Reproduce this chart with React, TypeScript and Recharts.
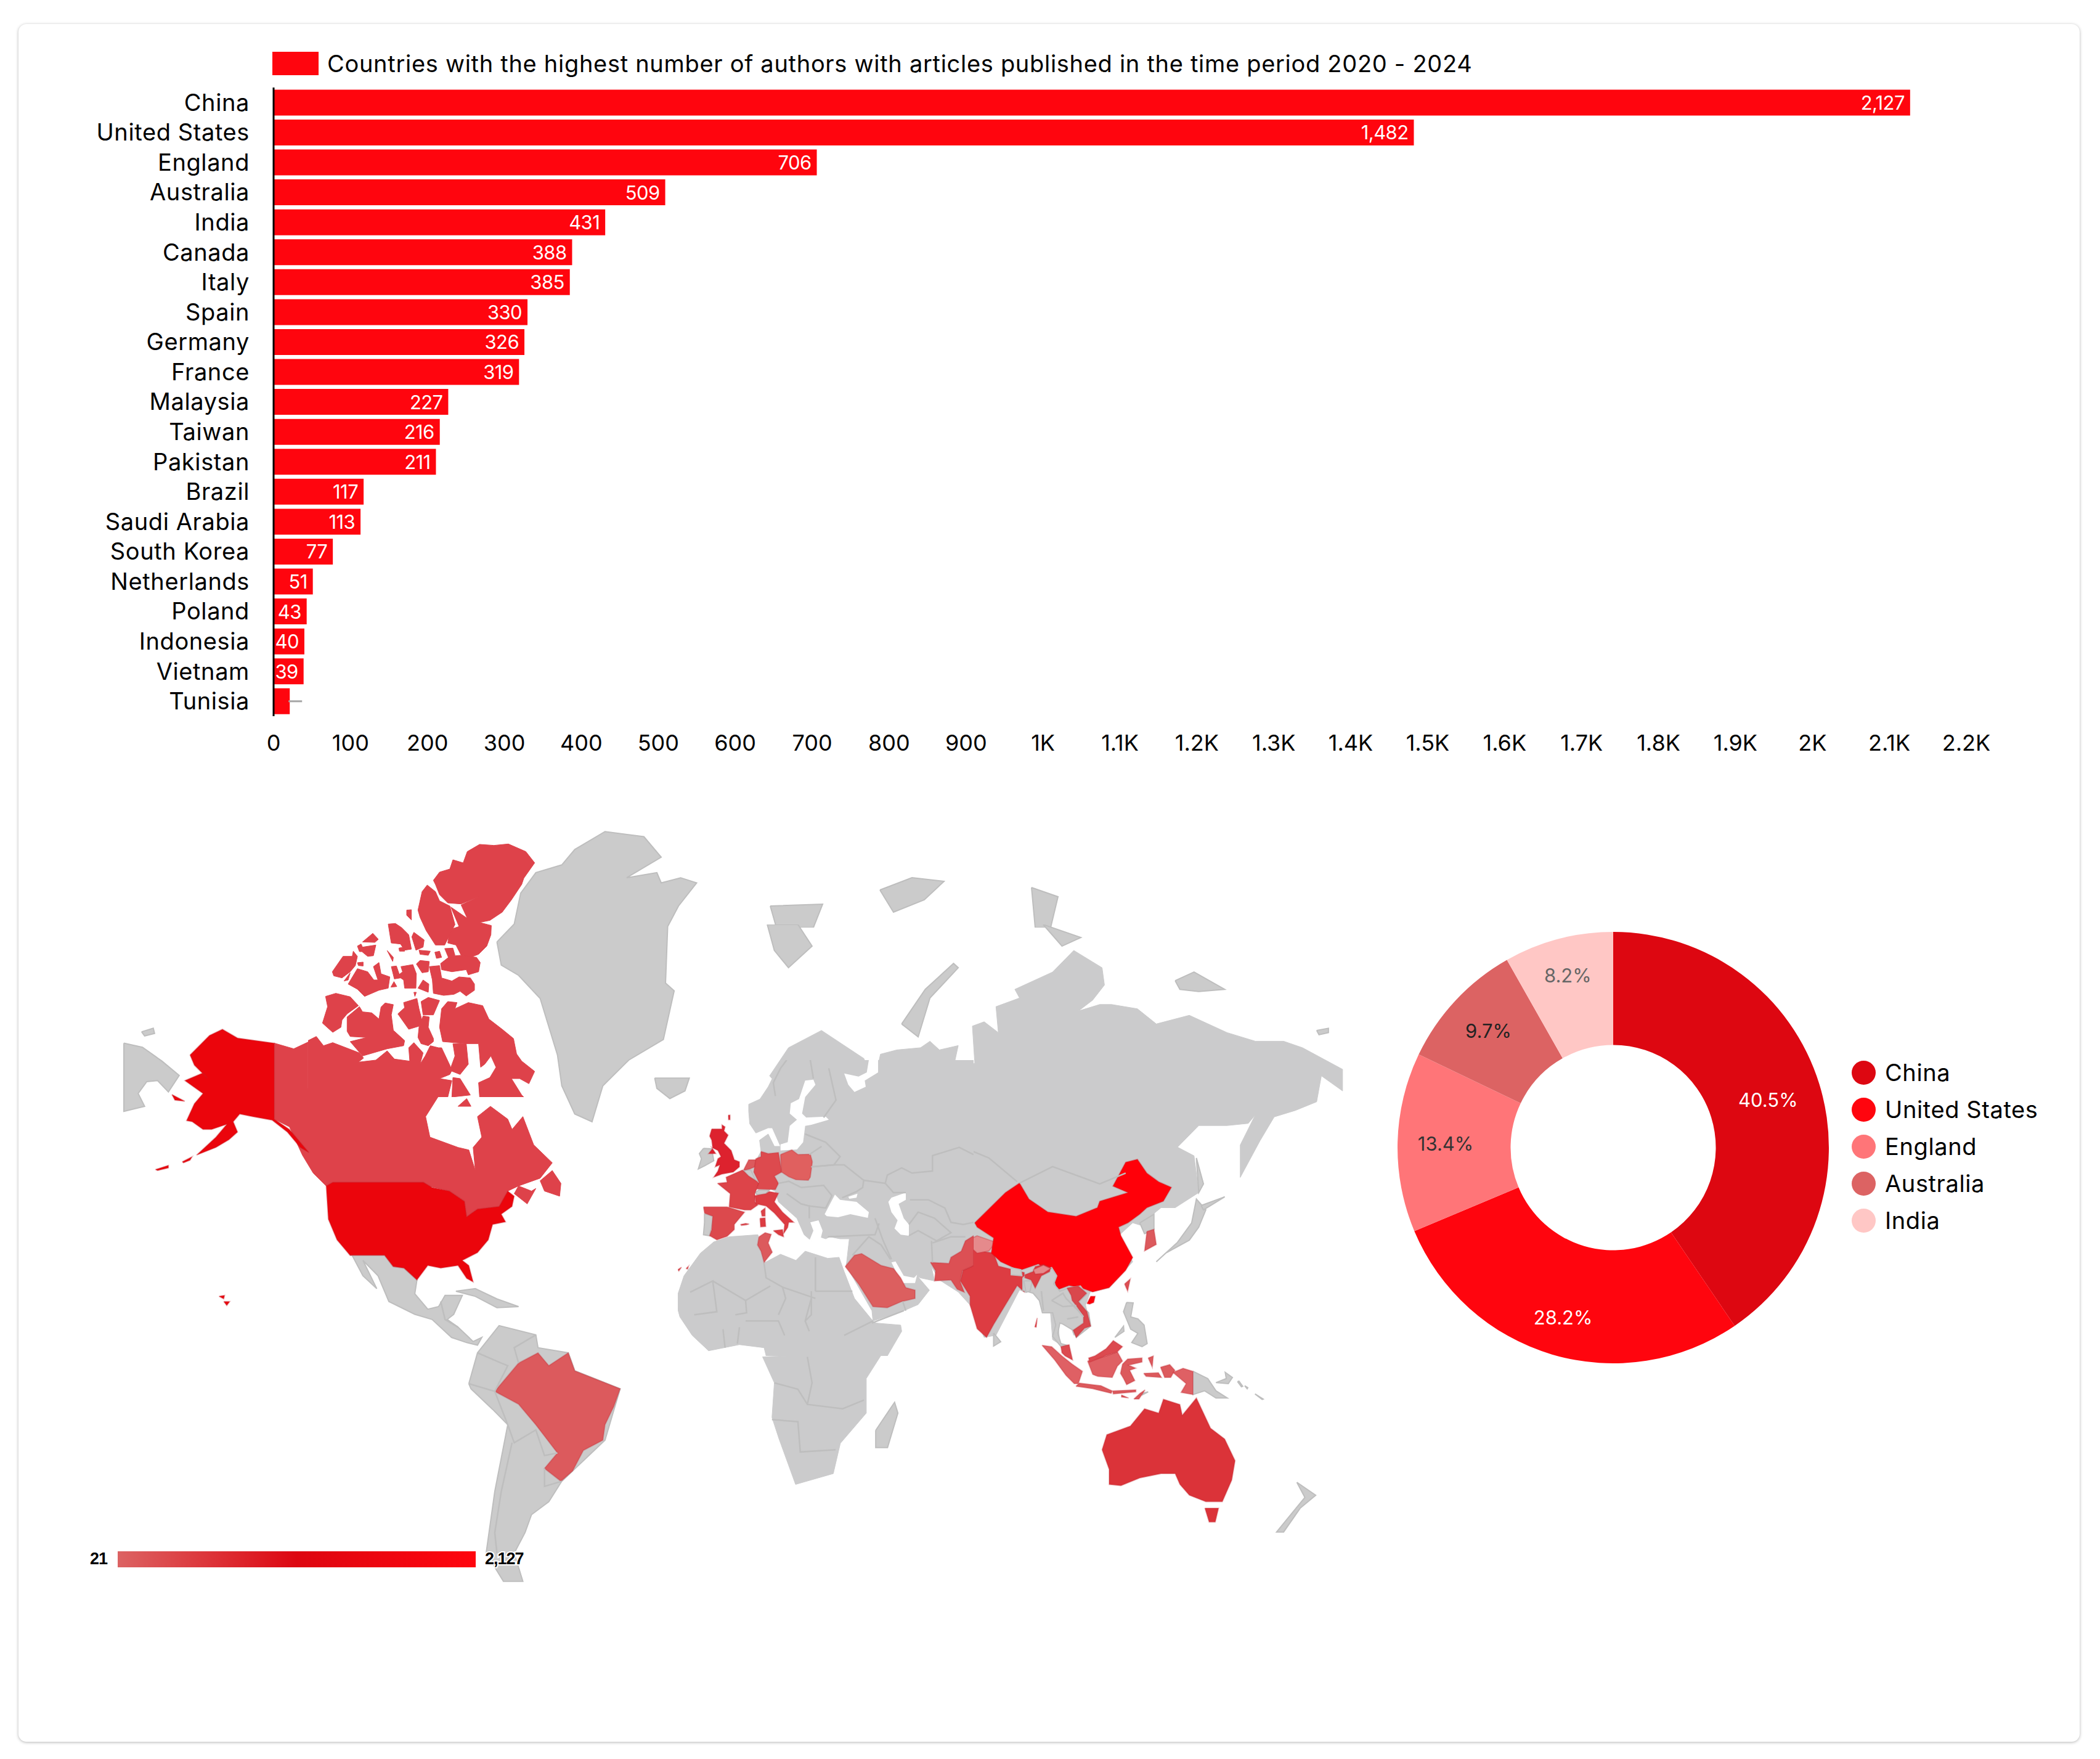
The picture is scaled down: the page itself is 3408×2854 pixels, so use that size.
import React from 'react';
import {
  BarChart, Bar, XAxis, YAxis, LabelList, Legend, PieChart, Pie, Cell, ScatterChart, Scatter,
} from 'recharts';

const FONT = 'Inter, sans-serif';

const countries = ['China', 'United States', 'England', 'Australia', 'India', 'Canada', 'Italy', 'Spain', 'Germany', 'France', 'Malaysia', 'Taiwan', 'Pakistan', 'Brazil', 'Saudi Arabia', 'South Korea', 'Netherlands', 'Poland', 'Indonesia', 'Vietnam', 'Tunisia'];
const authors = [2127, 1482, 706, 509, 431, 388, 385, 330, 326, 319, 227, 216, 211, 117, 113, 77, 51, 43, 40, 39, 21];
const xTicks = [0, 100, 200, 300, 400, 500, 600, 700, 800, 900, 1000, 1100, 1200, 1300, 1400, 1500, 1600, 1700, 1800, 1900, 2000, 2100, 2200];

const pieNames = ['China', 'United States', 'England', 'Australia', 'India'];
const pieValues = [2127, 1482, 706, 509, 431];
const pieColors = ['#dd0711', '#ff050e', '#ff7578', '#dc6363', '#ffc7c5'];
const pieLabelColors = ['#ffffff', '#ffffff', '#333333', '#222222', '#666666'];
const pieLabelRadius = [263, 287, 272, 277, 289];

const barRows = countries.map((name, i) => ({ name, value: authors[i] }));
const pieRows = pieNames.map((name, i) => ({ name, value: pieValues[i] }));

type Pt = [number, number];
type Region = { pts: Pt[]; fill: string };

const GRAY = '#cbcbcb';
const LAND = '#cbcbcc'; // same gray, no coast line, for pieces that meet at a crop edge
const WHITE = '#ffffff';
const US = '#eb050c';
const CANADA = '#de424a';
const CHINA = '#ff0009';
const LOW = '#dc5a5d';
const AUS = '#db3339';

// western half
const chukotka: Pt[] = [[87, 447], [130, 455], [175, 482], [215, 510], [190, 542], [165, 520], [140, 522], [120, 545], [135, 570], [87, 580]];
const stLawrence: Pt[] = [[128, 425], [155, 418], [158, 428], [135, 433]];
const greenland: Pt[] = [[950, 250], [990, 215], [1005, 155], [1040, 115], [1100, 100], [1130, 70], [1200, 35], [1290, 45], [1330, 85], [1250, 125], [1320, 115], [1330, 135], [1375, 125], [1412, 135], [1370, 180], [1345, 220], [1340, 330], [1360, 345], [1335, 440], [1255, 480], [1195, 530], [1170, 600], [1130, 585], [1100, 530], [1090, 470], [1050, 360], [1000, 315], [960, 295]];
const iceland: Pt[] = [[1315, 515], [1370, 515], [1395, 515], [1385, 540], [1350, 555], [1320, 535]];
const mexico: Pt[] = [[610, 860], [690, 860], [710, 882], [735, 885], [765, 908], [760, 935], [790, 965], [815, 960], [830, 938], [870, 938], [850, 975], [835, 985], [860, 1000], [895, 1028], [915, 1020], [905, 1035], [880, 1030], [845, 1020], [800, 985], [760, 975], [700, 950], [675, 900], [640, 870], [672, 925], [640, 900], [615, 860]];
const cuba: Pt[] = [[855, 930], [900, 925], [950, 945], [1000, 960], [950, 962], [900, 940]];
const southAmerica: Pt[] = [[885, 1110], [905, 1050], [955, 997], [1040, 1015], [1045, 1040], [1115, 1050], [1130, 1085], [1235, 1120], [1200, 1220], [1100, 1300], [1070, 1340], [1030, 1365], [1015, 1400], [990, 1440], [1010, 1495], [965, 1495], [925, 1440], [945, 1320], [975, 1190], [940, 1160], [890, 1120]];
const brazil: Pt[] = [[945, 1125], [1000, 1070], [1045, 1050], [1070, 1075], [1115, 1050], [1130, 1085], [1235, 1120], [1220, 1155], [1200, 1190], [1195, 1220], [1150, 1240], [1125, 1280], [1098, 1300], [1060, 1275], [1090, 1245], [1040, 1190], [1000, 1150]];
const alaska: Pt[] = [[240, 470], [285, 432], [315, 420], [350, 437], [435, 447], [435, 595], [470, 615], [515, 660], [495, 650], [465, 620], [430, 597], [385, 590], [355, 585], [340, 600], [350, 620], [330, 635], [300, 650], [255, 665], [300, 630], [325, 605], [290, 615], [270, 615], [245, 600], [232, 598], [250, 565], [270, 545], [228, 520], [270, 505], [280, 515], [250, 490]];
const aleutianA: Pt[] = [[160, 693], [190, 685], [190, 690], [165, 695]];
const aleutianB: Pt[] = [[222, 678], [245, 668], [240, 675], [225, 680]];
const nunivak: Pt[] = [[198, 547], [228, 560], [205, 558]];
const hawaiiA: Pt[] = [[307, 940], [320, 938], [318, 945]];
const hawaiiB: Pt[] = [[318, 950], [332, 950], [325, 958]];
const lower48: Pt[] = [[570, 718], [780, 718], [800, 728], [840, 735], [875, 755], [880, 785], [905, 770], [955, 765], [975, 735], [990, 745], [985, 765], [960, 780], [970, 795], [940, 800], [930, 830], [905, 855], [870, 870], [885, 880], [895, 912], [880, 905], [860, 880], [820, 885], [790, 880], [765, 908], [735, 885], [710, 882], [690, 860], [610, 860], [580, 830], [560, 790], [555, 725]];
const canadaMain: Pt[] = [[435, 447], [480, 458], [513, 445], [513, 535], [835, 535], [815, 550], [785, 590], [795, 630], [860, 650], [885, 655], [900, 695], [895, 650], [915, 630], [905, 590], [935, 570], [975, 595], [985, 615], [1010, 590], [1035, 645], [1078, 680], [1050, 710], [1000, 725], [975, 735], [955, 765], [905, 770], [880, 785], [875, 755], [840, 735], [790, 725], [780, 718], [570, 718], [555, 725], [525, 700], [500, 665], [470, 610], [435, 595]];
const southampton: Pt[] = [[860, 570], [880, 555], [890, 570]];
const newfoundland: Pt[] = [[1050, 715], [1078, 695], [1098, 720], [1095, 745], [1060, 735]];
const novaScotia: Pt[] = [[990, 740], [1000, 725], [1030, 735], [1040, 730], [1020, 760]];

const westRegions: Region[] = [
  { pts: chukotka, fill: GRAY }, { pts: stLawrence, fill: GRAY }, { pts: greenland, fill: GRAY }, { pts: iceland, fill: GRAY },
  { pts: mexico, fill: GRAY }, { pts: cuba, fill: GRAY }, { pts: southAmerica, fill: GRAY }, { pts: brazil, fill: LOW },
  { pts: canadaMain, fill: CANADA }, { pts: southampton, fill: CANADA }, { pts: newfoundland, fill: CANADA }, { pts: novaScotia, fill: CANADA },
  { pts: alaska, fill: US }, { pts: aleutianA, fill: US }, { pts: aleutianB, fill: US }, { pts: nunivak, fill: US },
  { pts: hawaiiA, fill: US }, { pts: hawaiiB, fill: US }, { pts: lower48, fill: US },
];
const westBorders: Pt[][] = [
  [[905, 1050], [960, 1070], [975, 1075], [945, 1125]],
  [[885, 1110], [945, 1125], [975, 1190]],
  [[975, 1190], [990, 1225], [1040, 1200], [1060, 1250], [1090, 1245]],
  [[985, 1225], [960, 1320], [945, 1400], [950, 1440]],
  [[1040, 1015], [990, 1040], [1000, 1070]],
  [[1060, 1275], [1060, 1310], [1100, 1300]],
  [[820, 950], [830, 985], [860, 1000]],
];

// canadian arctic, finer crop
const ellesmere: Pt[] = [[610, 205], [640, 165], [690, 150], [705, 105], [755, 120], [775, 65], [835, 30], [905, 35], [975, 28], [1060, 65], [1103, 120], [1050, 195], [1040, 225], [990, 300], [945, 360], [885, 400], [835, 410], [892, 425], [890, 470], [870, 525], [830, 565], [790, 580], [745, 570], [720, 520], [680, 510], [690, 445], [735, 430], [695, 335], [775, 390], [745, 325], [830, 285], [745, 320], [680, 315], [640, 275], [620, 225]];
const axelHeiberg: Pt[] = [[580, 228], [620, 260], [640, 305], [690, 330], [715, 420], [665, 520], [620, 520], [575, 450], [545, 385], [535, 350], [555, 260]];
const devon: Pt[] = [[645, 610], [690, 575], [740, 570], [820, 580], [838, 605], [830, 650], [780, 665], [770, 640], [700, 650], [650, 640]];
const northKent: Pt[] = [[665, 537], [705, 535], [715, 570], [685, 585]];
const grahamIs: Pt[] = [[617, 555], [640, 550], [650, 580], [625, 585]];
const cornwall: Pt[] = [[505, 480], [515, 458], [565, 495], [560, 530], [525, 545]];
const amundRingnes: Pt[] = [[540, 545], [595, 550], [585, 570], [545, 565]];
const kingChristian: Pt[] = [[442, 535], [465, 530], [470, 550], [445, 550]];
const ellefRingnes: Pt[] = [[390, 418], [425, 415], [455, 435], [490, 470], [503, 540], [470, 545], [450, 515], [405, 510], [400, 480]];
const meighen: Pt[] = [[480, 350], [503, 348], [503, 398], [480, 375]];
const borden: Pt[] = [[265, 505], [315, 463], [342, 492], [325, 507]];
const mackenzieKing: Pt[] = [[240, 525], [258, 515], [265, 530], [330, 520], [318, 572], [290, 575], [262, 552], [250, 552]];
const lougheed: Pt[] = [[385, 547], [415, 580], [412, 600]];
const eglinton: Pt[] = [[240, 606], [268, 603], [268, 622], [245, 620]];
const princePatrick: Pt[] = [[118, 650], [170, 575], [215, 575], [220, 550], [240, 575], [230, 620], [205, 650], [165, 680], [125, 670]];
const melvilleIs: Pt[] = [[195, 710], [240, 635], [290, 650], [320, 690], [340, 690], [318, 625], [345, 605], [355, 660], [398, 675], [390, 730], [345, 740], [275, 770], [240, 735]];
const emeraldIs: Pt[] = [[175, 695], [205, 655], [195, 690]];
const byam: Pt[] = [[405, 625], [430, 622], [450, 680], [420, 685]];
const bathurst: Pt[] = [[452, 625], [510, 615], [527, 660], [525, 730], [470, 730], [465, 690], [435, 670], [460, 650]];
const lowther: Pt[] = [[403, 725], [418, 698], [432, 722]];
const cornwallis: Pt[] = [[527, 612], [545, 595], [590, 600], [585, 650], [555, 655]];
const devonSouth: Pt[] = [[590, 625], [640, 620], [650, 680], [700, 695], [735, 675], [790, 680], [810, 710], [810, 740], [770, 768], [740, 745], [710, 760], [660, 765], [610, 755], [605, 690]];
const griffith: Pt[] = [[535, 730], [560, 690], [588, 710], [585, 750]];
const youngIs: Pt[] = [[515, 750], [527, 750], [520, 770]];
const banks: Pt[] = [[85, 770], [135, 755], [205, 772], [245, 815], [190, 855], [165, 885], [160, 920], [120, 945], [70, 900], [95, 820]];
const victoriaIs: Pt[] = [[190, 870], [250, 820], [265, 845], [310, 850], [345, 880], [355, 822], [375, 802], [415, 810], [405, 860], [415, 935], [470, 985], [465, 1010], [385, 1025], [265, 1060], [205, 990], [285, 970], [205, 965], [190, 940]];
const princeWales: Pt[] = [[437, 855], [470, 825], [465, 800], [530, 780], [540, 830], [555, 890], [540, 915], [490, 930]];
const somerset: Pt[] = [[550, 795], [585, 775], [640, 790], [610, 860], [560, 860]];
const boothia: Pt[] = [[560, 865], [590, 870], [585, 920], [610, 975], [610, 990], [585, 1010], [550, 1000], [535, 970], [540, 920]];
const arcticCoast: Pt[] = [[0, 985], [40, 965], [75, 1010], [120, 995], [250, 1045], [270, 1070], [245, 1090], [330, 1080], [385, 1035], [420, 1075], [495, 1085], [490, 1020], [515, 995], [560, 1045], [545, 1100], [570, 1060], [595, 1010], [635, 1020], [650, 1020], [690, 1105], [700, 1130], [690, 1150], [640, 1170], [700, 1180], [680, 1260], [0, 1260]];
const baffin: Pt[] = [[640, 920], [650, 830], [680, 795], [725, 800], [715, 830], [780, 800], [850, 815], [880, 880], [945, 930], [1000, 975], [1015, 1050], [1040, 1085], [1103, 1135], [1075, 1195], [1030, 1170], [990, 1170], [1040, 1250], [1050, 1260], [835, 1260], [830, 1190], [885, 1165], [915, 1115], [890, 1060], [860, 1100], [840, 1115], [830, 1000], [770, 1000], [655, 990]];
const melvillePen: Pt[] = [[705, 1000], [770, 1000], [780, 1100], [740, 1150], [690, 1130], [715, 1060]];
const ungavaTip: Pt[] = [[705, 1165], [740, 1170], [790, 1250], [700, 1260]];

const arcticRegions: Region[] = [
  ellesmere, axelHeiberg, devon, northKent, grahamIs, cornwall, amundRingnes, kingChristian, ellefRingnes, meighen, borden,
  mackenzieKing, lougheed, eglinton, princePatrick, melvilleIs, emeraldIs, byam, bathurst, lowther, cornwallis, devonSouth,
  griffith, youngIs, banks, victoriaIs, princeWales, somerset, boothia, arcticCoast, baffin, melvillePen, ungavaTip,
].map((pts) => ({ pts, fill: CANADA }));

// high arctic islands above the eastern crop
const franzJosef: Pt[] = [[228, 64], [280, 44], [332, 50], [300, 80], [250, 100]];
const svalbardTop: Pt[] = [[50, 90], [135, 87], [120, 125], [60, 125]];
const severnayaTop: Pt[] = [[474, 60], [517, 75], [505, 125], [480, 125]];
const northRegions: Region[] = [franzJosef, svalbardTop, severnayaTop].map((pts) => ({ pts, fill: GRAY }));

// eastern half
const eurasia: Pt[] = [[470, 330], [485, 350], [495, 300], [530, 290], [580, 285], [600, 270], [620, 290], [660, 280], [650, 330], [670, 345], [695, 320], [690, 235], [715, 225], [745, 250], [740, 190], [790, 170], [780, 150], [860, 110], [905, 60], [965, 100], [970, 140], [945, 175], [915, 200], [960, 185], [985, 185], [1040, 195], [1080, 230], [1150, 210], [1230, 250], [1290, 270], [1350, 270], [1390, 285], [1475, 335], [1475, 385], [1430, 350], [1420, 410], [1375, 430], [1330, 445], [1300, 500], [1258, 585], [1258, 510], [1290, 440], [1275, 460], [1230, 465], [1170, 465], [1125, 515], [1160, 535], [1170, 620], [1120, 655], [1090, 655], [1045, 695], [1030, 690], [1000, 720], [1030, 780], [980, 840], [940, 850], [930, 880], [940, 925], [905, 950], [890, 905], [870, 895], [875, 965], [895, 985], [860, 960], [855, 890], [830, 850], [800, 850], [790, 845], [740, 950], [715, 955], [685, 880], [660, 850], [620, 822], [600, 785], [600, 330]];
const scandinaviaTop: Pt[] = [[260, 350], [300, 285], [370, 245], [460, 310], [470, 340], [420, 345], [405, 380], [380, 400], [300, 400]];
const africaSouth: Pt[] = [[245, 1000], [500, 990], [465, 1050], [465, 1130], [410, 1200], [395, 1270], [315, 1295], [280, 1190], [265, 1140], [270, 1060]];
const madagascar: Pt[] = [[485, 1170], [525, 1105], [532, 1130], [510, 1210], [485, 1210]];
const northKorea: Pt[] = [[1045, 690], [1075, 670], [1075, 705], [1055, 715]];
const honshu: Pt[] = [[1080, 780], [1125, 735], [1155, 690], [1165, 635], [1185, 660], [1170, 700], [1150, 730], [1100, 760]];
const sakhalin: Pt[] = [[1165, 540], [1180, 600], [1170, 620]];
const hokkaido: Pt[] = [[1175, 650], [1225, 630], [1180, 660]];
const sriLanka: Pt[] = [[735, 945], [750, 965], [735, 975]];
const newZealand: Pt[] = [[1378, 1290], [1418, 1320], [1385, 1350], [1350, 1405], [1335, 1405], [1365, 1365], [1395, 1325]];
const svalbard: Pt[] = [[255, 0], [320, 0], [350, 50], [300, 100], [270, 60]];
const novayaZemlya: Pt[] = [[540, 230], [590, 150], [650, 90], [660, 100], [600, 170], [575, 260]];
const severnaya: Pt[] = [[840, 0], [920, 30], [880, 50]];
const newSiberian: Pt[] = [[1120, 130], [1160, 110], [1225, 150], [1170, 155], [1130, 150]];
const wrangel: Pt[] = [[1420, 245], [1445, 240], [1445, 250], [1425, 255]];
const china: Pt[] = [[695, 690], [760, 620], [790, 598], [810, 635], [850, 665], [910, 675], [955, 655], [960, 640], [1020, 620], [988, 605], [1015, 550], [1040, 543], [1060, 575], [1085, 595], [1112, 608], [1095, 640], [1060, 655], [1045, 670], [1020, 690], [1000, 700], [1005, 720], [1030, 770], [1015, 800], [980, 840], [945, 850], [920, 840], [895, 835], [870, 845], [860, 810], [830, 785], [790, 800], [750, 780], [730, 760], [735, 725], [700, 700]];
const india: Pt[] = [[670, 800], [690, 790], [680, 750], [735, 760], [745, 790], [800, 805], [800, 850], [785, 835], [760, 880], [735, 925], [720, 955], [700, 935], [685, 880], [685, 860], [665, 825]];
const kashmir: Pt[] = [[680, 730], [700, 720], [740, 735], [725, 755], [700, 760], [685, 745]];
const southKorea: Pt[] = [[1060, 710], [1075, 705], [1080, 740], [1055, 755]];
const australia: Pt[] = [[965, 1215], [975, 1180], [1025, 1160], [1055, 1120], [1085, 1130], [1095, 1098], [1130, 1110], [1135, 1135], [1165, 1095], [1195, 1165], [1225, 1190], [1247, 1240], [1240, 1285], [1220, 1335], [1185, 1335], [1150, 1320], [1130, 1295], [1120, 1270], [1090, 1270], [1045, 1280], [1005, 1298], [980, 1295], [980, 1260]];
const tasmania: Pt[] = [[1183, 1350], [1212, 1350], [1205, 1382], [1192, 1382]];

const eastRegions: Region[] = [
  { pts: eurasia, fill: LAND }, { pts: scandinaviaTop, fill: LAND }, { pts: africaSouth, fill: LAND }, { pts: madagascar, fill: GRAY },
  { pts: northKorea, fill: GRAY }, { pts: honshu, fill: GRAY }, { pts: sakhalin, fill: GRAY }, { pts: hokkaido, fill: GRAY },
  { pts: sriLanka, fill: GRAY }, { pts: newZealand, fill: GRAY }, { pts: svalbard, fill: GRAY }, { pts: novayaZemlya, fill: GRAY },
  { pts: severnaya, fill: GRAY }, { pts: newSiberian, fill: GRAY }, { pts: wrangel, fill: GRAY },
  { pts: australia, fill: AUS }, { pts: tasmania, fill: AUS },
  { pts: india, fill: '#dd3c42' }, { pts: kashmir, fill: '#e58a8c' },
  { pts: china, fill: CHINA }, { pts: southKorea, fill: LOW },
];
const eastBorders: Pt[][] = [
  [[692, 525], [725, 540], [785, 595]],
  [[790, 598], [860, 560], [960, 600], [1015, 575]],
  [[270, 1060], [320, 1075], [340, 1110], [415, 1120], [460, 1100]],
  [[265, 1145], [320, 1150], [325, 1220], [400, 1215]],
  [[340, 1000], [350, 1060], [340, 1110]],
  [[600, 740], [660, 745], [680, 725]],
];

// europe, middle east and north africa, finer crop
const europeBase: Pt[] = [[345, 215], [400, 190], [440, 130], [480, 50], [525, 0], [1440, 0], [1440, 850], [1380, 930], [1320, 990], [1230, 985], [1250, 1075], [1180, 1060], [1165, 1050], [1225, 1120], [1170, 1190], [1100, 1220], [950, 1270], [945, 1220], [820, 1000], [835, 870], [790, 870], [740, 860], [720, 870], [690, 860], [650, 880], [615, 850], [580, 770], [490, 690], [475, 640], [385, 590], [320, 535], [380, 490], [405, 445], [398, 390], [440, 360], [470, 420], [500, 420], [460, 330], [440, 330], [380, 355], [350, 310], [345, 250]];
const baltic: Pt[] = [[550, 210], [590, 190], [620, 100], [660, 95], [670, 120], [620, 180], [605, 260], [625, 280], [720, 275], [735, 290], [650, 315], [620, 320], [610, 400], [580, 435], [500, 440], [500, 410], [535, 400], [545, 320], [580, 290], [545, 260]];
const whiteSea: Pt[] = [[810, 65], [880, 80], [920, 60], [930, 0], [975, 0], [975, 60], [910, 100], [915, 130], [860, 155], [830, 120]];
const blackSea: Pt[] = [[715, 750], [765, 655], [790, 680], [870, 690], [930, 740], [925, 768], [840, 750], [780, 765], [725, 760]];
const azov: Pt[] = [[830, 665], [875, 650], [870, 670], [835, 675]];
const caspian: Pt[] = [[1025, 690], [1040, 670], [1110, 645], [1110, 680], [1075, 700], [1100, 770], [1125, 800], [1125, 855], [1085, 850], [1055, 820], [1070, 780], [1040, 740]];
const aegean: Pt[] = [[645, 790], [685, 780], [705, 830], [690, 890], [640, 880], [660, 830]];
const persianGulf: Pt[] = [[1040, 985], [1060, 980], [1100, 1050], [1150, 1060], [1165, 1045], [1155, 1085], [1090, 1085]];
const africaNorth: Pt[] = [[0, 1140], [30, 1050], [110, 940], [175, 885], [250, 860], [390, 850], [425, 985], [500, 945], [575, 975], [620, 930], [730, 965], [785, 960], [810, 1030], [860, 1160], [950, 1270], [965, 1280], [1085, 1290], [1090, 1320], [1020, 1440], [430, 1440], [420, 1400], [300, 1385], [150, 1415], [70, 1340], [10, 1250], [-9, 1180]];
const ireland: Pt[] = [[125, 430], [165, 432], [175, 490], [130, 515], [100, 530], [115, 480], [105, 455]];
const britain: Pt[] = [[165, 335], [215, 335], [215, 315], [230, 325], [225, 345], [245, 365], [225, 405], [260, 440], [275, 485], [300, 495], [300, 520], [270, 545], [215, 555], [175, 570], [195, 540], [205, 510], [182, 520], [195, 480], [210, 470], [195, 440], [165, 425], [185, 455], [150, 455], [170, 430], [165, 390], [155, 370]];
const netherlands: Pt[] = [[320, 535], [345, 485], [385, 485], [375, 520], [350, 530], [330, 535]];
const belgium: Pt[] = [[320, 537], [355, 535], [378, 585], [345, 565]];
const france: Pt[] = [[193, 600], [240, 595], [235, 570], [315, 535], [345, 565], [385, 590], [395, 600], [375, 650], [375, 690], [390, 705], [355, 730], [325, 730], [250, 715], [255, 650]];
const germany: Pt[] = [[405, 445], [440, 455], [490, 450], [500, 510], [505, 545], [470, 565], [490, 600], [475, 630], [385, 628], [395, 595], [370, 545], [380, 480], [405, 470]];
const poland: Pt[] = [[500, 460], [555, 437], [585, 460], [645, 458], [655, 495], [645, 570], [635, 585], [575, 582], [540, 568], [505, 545]];
const switzerland: Pt[] = [[378, 645], [395, 632], [445, 632], [425, 655], [385, 655]];
const italy: Pt[] = [[375, 660], [430, 650], [445, 640], [490, 648], [470, 690], [510, 740], [565, 790], [540, 790], [535, 815], [515, 845], [520, 800], [470, 745], [430, 710], [380, 700]];
const sicily: Pt[] = [[465, 830], [510, 825], [515, 860], [490, 850]];
const sardinia: Pt[] = [[400, 770], [425, 768], [428, 810], [403, 812]];
const corsica: Pt[] = [[405, 735], [425, 720], [425, 760], [410, 760]];
const balearic: Pt[] = [[305, 800], [330, 795], [347, 798], [335, 802], [310, 805]];
const spain: Pt[] = [[125, 715], [240, 715], [325, 740], [275, 800], [275, 825], [240, 858], [190, 875], [155, 855], [165, 825], [170, 760], [130, 745]];
const portugal: Pt[] = [[130, 748], [175, 760], [160, 830], [155, 855], [125, 850], [130, 790]];
const tunisia: Pt[] = [[395, 860], [425, 840], [455, 848], [440, 890], [460, 935], [420, 985], [405, 930], [388, 900]];
const saudi: Pt[] = [[815, 1005], [860, 950], [895, 942], [990, 1000], [1050, 1015], [1085, 1060], [1110, 1108], [1155, 1120], [1155, 1160], [1090, 1175], [1020, 1205], [950, 1200], [880, 1090]];
const pakistan: Pt[] = [[1230, 985], [1320, 990], [1330, 960], [1380, 930], [1400, 880], [1440, 855], [1440, 1000], [1385, 1025], [1375, 1080], [1395, 1130], [1360, 1115], [1330, 1070], [1250, 1075], [1255, 1025]];
const canaryA: Pt[] = [[0, 1020], [18, 1008], [5, 1027]];
const canaryB: Pt[] = [[40, 1015], [52, 1003], [48, 1017]];
const orkney: Pt[] = [[246, 268], [254, 268], [254, 290], [247, 290]];

const europeRegions: Region[] = [
  { pts: europeBase, fill: LAND }, { pts: africaNorth, fill: LAND }, { pts: ireland, fill: GRAY },
  { pts: baltic, fill: WHITE }, { pts: whiteSea, fill: WHITE }, { pts: blackSea, fill: WHITE }, { pts: azov, fill: WHITE },
  { pts: caspian, fill: WHITE }, { pts: aegean, fill: WHITE }, { pts: persianGulf, fill: WHITE },
  { pts: belgium, fill: GRAY }, { pts: switzerland, fill: GRAY }, { pts: portugal, fill: GRAY },
  { pts: britain, fill: '#dd222e' }, { pts: orkney, fill: '#dd222e' }, { pts: netherlands, fill: LOW }, { pts: france, fill: '#dd4449' },
  { pts: germany, fill: '#dd4a4e' }, { pts: poland, fill: '#e0605f' }, { pts: italy, fill: '#dd3c42' }, { pts: sicily, fill: '#dd3c42' },
  { pts: sardinia, fill: '#dd3c42' }, { pts: corsica, fill: '#dd4449' }, { pts: balearic, fill: '#dc494d' }, { pts: spain, fill: '#dc494d' },
  { pts: canaryA, fill: '#dc494d' }, { pts: canaryB, fill: '#dc494d' },
  { pts: tunisia, fill: LOW }, { pts: saudi, fill: '#dc5f5f' }, { pts: pakistan, fill: '#dc5054' },
];
const europeBorders: Pt[][] = [
  [[475, 175], [465, 110], [500, 40], [530, 0]],
  [[645, 0], [660, 90]],
  [[735, 40], [770, 195], [710, 280]],
  [[620, 360], [720, 400], [790, 470], [760, 510], [650, 520]],
  [[640, 460], [700, 420]],
  [[650, 520], [760, 510], [810, 510], [905, 585], [900, 620], [870, 640], [800, 670]],
  [[600, 620], [710, 610], [750, 660], [720, 720], [640, 710]],
  [[490, 600], [540, 590], [600, 620]],
  [[530, 650], [600, 700], [640, 710], [640, 770]],
  [[905, 585], [1010, 600], [1050, 645], [1110, 645]],
  [[1010, 600], [1020, 560], [1090, 525], [1140, 550], [1240, 540], [1240, 465], [1370, 425], [1440, 460]],
  [[1130, 680], [1220, 680], [1300, 720], [1330, 790], [1390, 800], [1440, 790]],
  [[1125, 800], [1170, 740], [1250, 770], [1330, 840], [1260, 880], [1170, 830], [1125, 855]],
  [[960, 770], [1000, 880], [1040, 970]],
  [[1235, 880], [1240, 985]],
  [[1240, 890], [1330, 860], [1400, 860]],
  [[730, 860], [960, 850], [980, 795]],
  [[850, 950], [930, 860], [990, 900], [1035, 970]],
  [[670, 960], [670, 1125]],
  [[670, 1125], [850, 1125]],
  [[510, 1105], [670, 1160]],
  [[420, 990], [430, 1060], [510, 1105], [525, 1160], [490, 1240]],
  [[170, 1075], [330, 1170], [450, 1100]],
  [[330, 1170], [335, 1230], [280, 1240]],
  [[60, 1130], [170, 1075], [190, 1225], [80, 1240]],
  [[650, 1160], [620, 1270], [640, 1320]],
  [[650, 1125], [650, 1240], [620, 1270]],
  [[810, 1340], [950, 1270]],
  [[330, 1270], [490, 1270], [520, 1340]],
  [[220, 1310], [230, 1400]],
  [[300, 1300], [290, 1380]],
  [[945, 1280], [1100, 1220]],
  [[1095, 1175], [1110, 1220]],
];

// south east asia, finer crop
const indochina: Pt[] = [[60, 100], [100, 70], [200, 50], [225, 90], [210, 130], [240, 165], [280, 150], [340, 140], [370, 180], [330, 220], [380, 270], [390, 335], [320, 390], [305, 355], [255, 325], [240, 320], [230, 370], [245, 420], [280, 430], [250, 440], [205, 385], [220, 330], [205, 270], [155, 270], [140, 210], [110, 175], [60, 160]];
const vietnam: Pt[] = [[275, 150], [330, 140], [370, 175], [330, 215], [372, 265], [390, 335], [360, 345], [320, 390], [305, 355], [355, 320], [355, 285], [320, 235], [300, 210], [295, 185]];
const assam: Pt[] = [[70, 85], [110, 70], [120, 45], [160, 35], [195, 50], [190, 70], [150, 90], [120, 150], [100, 110], [70, 100]];
const bhutanHatch: Pt[] = [[110, 60], [160, 38], [195, 55], [160, 78], [120, 82]];
const bangladesh: Pt[] = [[65, 115], [105, 115], [95, 165], [75, 170]];
const nepal: Pt[] = [[0, 50], [50, 60], [55, 90], [0, 85]];
const hainan: Pt[] = [[372, 225], [390, 190], [412, 190], [405, 220], [385, 228]];
const taiwan: Pt[] = [[555, 130], [583, 105], [570, 165]];
const andaman: Pt[] = [[118, 340], [130, 295], [125, 340]];
const sumatra: Pt[] = [[153, 428], [200, 435], [250, 480], [300, 520], [350, 555], [330, 615], [310, 615], [270, 575], [215, 500]];
const malaya: Pt[] = [[245, 435], [285, 425], [302, 500], [265, 480], [250, 465]];
const java: Pt[] = [[318, 628], [335, 612], [440, 625], [495, 650], [490, 662], [400, 640]];
const sunda: Pt[] = [[497, 650], [610, 645], [610, 655], [500, 665]];
const sumba: Pt[] = [[540, 670], [575, 685], [540, 680]];
const flores: Pt[] = [[600, 690], [630, 662], [655, 645], [625, 690]];
const timor: Pt[] = [[630, 665], [670, 655], [640, 670]];
const sarawak: Pt[] = [[410, 480], [465, 445], [500, 405], [545, 435], [520, 460], [460, 480], [385, 510], [380, 490]];
const kalimantan: Pt[] = [[375, 505], [465, 480], [520, 460], [545, 505], [520, 530], [495, 585], [425, 580], [400, 570]];
const sulawesi: Pt[] = [[545, 520], [570, 495], [640, 490], [640, 510], [575, 525], [610, 540], [580, 550], [605, 600], [565, 620], [550, 590], [535, 565]];
const halmahera: Pt[] = [[670, 490], [695, 480], [690, 535]];
const seram: Pt[] = [[648, 565], [720, 562], [735, 585], [660, 580]];
const birdsHead: Pt[] = [[730, 535], [775, 522], [800, 550], [780, 585], [750, 585]];
const westPapua: Pt[] = [[790, 560], [840, 540], [888, 555], [888, 668], [830, 658], [855, 615]];
const papua: Pt[] = [[888, 555], [960, 590], [1000, 650], [1055, 685], [1000, 685], [945, 650], [888, 668]];
const newBritain: Pt[] = [[1000, 610], [1050, 590], [1045, 560], [1080, 585], [1060, 615]];
const philippines: Pt[] = [[565, 220], [597, 222], [585, 290], [620, 300], [650, 330], [665, 420], [640, 435], [590, 415], [620, 370], [585, 350], [550, 265]];
const palawan: Pt[] = [[508, 390], [550, 335], [552, 360]];
const solomonA: Pt[] = [[1105, 605], [1112, 603], [1130, 628], [1124, 630]];
const solomonB: Pt[] = [[1140, 625], [1155, 635], [1152, 640]];
const solomonC: Pt[] = [[1190, 665], [1230, 690], [1225, 692]];

const seAsiaRegions: Region[] = [
  { pts: indochina, fill: GRAY }, { pts: nepal, fill: GRAY }, { pts: bangladesh, fill: GRAY }, { pts: papua, fill: GRAY },
  { pts: newBritain, fill: GRAY }, { pts: philippines, fill: GRAY }, { pts: palawan, fill: GRAY },
  { pts: solomonA, fill: GRAY }, { pts: solomonB, fill: GRAY }, { pts: solomonC, fill: GRAY }, { pts: timor, fill: GRAY },
  { pts: vietnam, fill: '#d9484d' }, { pts: assam, fill: '#dd3c42' }, { pts: bhutanHatch, fill: '#e58a8c' },
  { pts: hainan, fill: CHINA }, { pts: taiwan, fill: '#dc5054' }, { pts: andaman, fill: '#dd3c42' },
  { pts: sumatra, fill: '#df6064' }, { pts: malaya, fill: '#dc4a50' }, { pts: java, fill: LOW }, { pts: sunda, fill: LOW },
  { pts: sumba, fill: LOW }, { pts: flores, fill: LOW }, { pts: kalimantan, fill: '#df6064' }, { pts: sarawak, fill: '#dc4a50' },
  { pts: sulawesi, fill: LOW }, { pts: halmahera, fill: LOW }, { pts: seram, fill: LOW }, { pts: birdsHead, fill: LOW }, { pts: westPapua, fill: '#df6064' },
];
const seAsiaBorders: Pt[][] = [
  [[150, 165], [160, 260]],
  [[200, 210], [255, 175], [270, 200], [330, 260], [355, 290]],
  [[200, 210], [255, 240], [320, 235]],
  [[275, 300], [330, 290]],
];

const EmptyShape = () => null;

const closed = (pts: Pt[]) => [...pts, pts[0]].map(([x, y]) => ({ x, y }));

const edgeStyle = (fill: string) => {
  if (fill === GRAY) return { stroke: '#bebebe', strokeWidth: 2 };
  if (fill === WHITE) return { stroke: 'none' };
  if (fill === LAND || fill === CANADA) return { stroke: fill, strokeWidth: 1 };
  return { stroke: '#c0202a', strokeWidth: 2, strokeOpacity: 0.3 };
};

// one map crop, the hidden axes take outline points to pixels
const MapLayer = ({ left, top, width, height, spanX, spanY, regions, borders }: {
  left: number; top: number; width: number; height: number; spanX: number; spanY: number;
  regions: Region[]; borders: Pt[][];
}) => (
  <div style={{ position: 'absolute', left, top }}>
    <ScatterChart width={width} height={height} margin={{ top: 0, right: 0, bottom: 0, left: 0 }} style={{ overflow: 'visible' }}>
      <XAxis type="number" dataKey="x" domain={[0, spanX]} hide allowDataOverflow />
      <YAxis type="number" dataKey="y" domain={[0, spanY]} reversed hide allowDataOverflow />
      {regions.map((r, i) => (
        <Scatter
          key={i}
          data={closed(r.pts)}
          shape={EmptyShape}
          isAnimationActive={false}
          line={{ fill: r.fill, ...edgeStyle(r.fill) }}
        />
      ))}
      {borders.map((b, i) => (
        <Scatter
          key={`b${i}`}
          data={b.map(([x, y]) => ({ x, y }))}
          shape={EmptyShape}
          isAnimationActive={false}
          line={{ fill: 'none', stroke: '#bebebe', strokeWidth: 2.5 }}
        />
      ))}
    </ScatterChart>
  </div>
);

const BarValueLabel = (props: any) => {
  const { x, y, width, height, value } = props;
  const end = x + width;
  const mid = y + height / 2;
  if (value < 30) {
    return <line x1={end - 2} x2={end + 20} y1={mid} y2={mid} stroke="#a6a6a6" strokeWidth={3} />;
  }
  return (
    <text x={end - 9} y={mid} textAnchor="end" dominantBaseline="central" fill="#fff" fontSize={31} letterSpacing={-0.6} fontFamily={FONT}>
      {Number(value).toLocaleString('en-US')}
    </text>
  );
};

const BarLegend = () => (
  <div style={{ position: 'absolute', left: 442, top: 84, display: 'flex', alignItems: 'center', height: 38, whiteSpace: 'nowrap' }}>
    <span style={{ width: 75, height: 38, background: '#ff050e', marginRight: 14 }} />
    <span style={{ fontSize: 38, letterSpacing: 0.7, color: '#000', fontFamily: FONT }}>
      Countries with the highest number of authors with articles published in the time period 2020 - 2024
    </span>
  </div>
);

const PieLegend = () => (
  <div style={{ position: 'absolute', left: 805, top: 230 }}>
    {pieNames.map((name, i) => (
      <div key={name} style={{ display: 'flex', alignItems: 'center', height: 60, whiteSpace: 'nowrap' }}>
        <span style={{ width: 39, height: 39, borderRadius: '50%', background: pieColors[i], marginRight: 15 }} />
        <span style={{ fontSize: 38, letterSpacing: 0.6, color: '#000', fontFamily: FONT }}>{name}</span>
      </div>
    ))}
  </div>
);

const renderPieLabel = (props: any) => {
  const { cx, cy, midAngle, percent, index } = props;
  const r = pieLabelRadius[index];
  const a = (midAngle * Math.PI) / 180;
  return (
    <text x={cx + r * Math.cos(a)} y={cy - r * Math.sin(a)} textAnchor="middle" dominantBaseline="central" fill={pieLabelColors[index]} fontSize={31} fontFamily={FONT}>
      {(percent * 100).toFixed(1)}%
    </text>
  );
};

const scaleLabel: React.CSSProperties = {
  position: 'absolute', top: 2512, fontSize: 27, fontWeight: 700, letterSpacing: -1, lineHeight: '34px', fontFamily: 'Liberation Sans', color: '#000',
  WebkitTextStroke: '4px #fff', paintOrder: 'stroke fill',
};

export default function App() {
  return (
    <div style={{ position: 'absolute', left: 0, top: 0, width: 3408, height: 2854, background: '#fff', overflow: 'hidden', fontFamily: FONT }}>
      <div style={{ position: 'absolute', left: 30, top: 39, width: 3345, height: 2787, borderRadius: 13, background: '#fff', boxShadow: '0 1px 5px rgba(0,0,0,0.3)' }} />

      <div style={{ position: 'absolute', left: 0, top: 0 }}>
        <BarChart
          layout="vertical"
          width={3408}
          height={1250}
          data={barRows}
          barCategoryGap="7%"
          margin={{ top: 142, right: 217, bottom: 0, left: 0 }}
        >
          <XAxis
            type="number"
            domain={[0, 2200]}
            ticks={xTicks}
            interval={0}
            height={88}
            axisLine={false}
            tickLine={false}
            tickMargin={24}
            tickFormatter={(v: number) => (v >= 1000 ? `${v / 1000}K` : `${v}`)}
            tick={{ fontSize: 36, fill: '#000', fontFamily: FONT }}
          />
          <YAxis
            type="category"
            dataKey="name"
            width={444}
            interval={0}
            tickLine={false}
            tickMargin={33}
            axisLine={{ stroke: '#000', strokeWidth: 3 }}
            tick={{ fontSize: 38, letterSpacing: 0.6, fill: '#000', fontFamily: FONT }}
          />
          <Legend content={<BarLegend />} wrapperStyle={{ position: 'absolute', left: 0, top: 0, width: 0, height: 0 }} />
          <Bar dataKey="value" fill="#ff050e" isAnimationActive={false}>
            <LabelList dataKey="value" content={<BarValueLabel />} />
          </Bar>
        </BarChart>
      </div>

      <MapLayer left={140} top={1320} width={1100} height={1300} spanX={1568} spanY={1560} regions={westRegions} borders={westBorders} />
      <MapLayer left={500} top={1360} width={420} height={420} spanX={1260} spanY={1260} regions={arcticRegions} borders={[]} />
      <MapLayer left={1200} top={1380} width={520} height={125} spanX={520} spanY={125} regions={northRegions} borders={[]} />
      <MapLayer left={1050} top={1500} width={1200} height={1100} spanX={1568} spanY={1568} regions={eastRegions} borders={eastBorders} />
      <MapLayer left={1100} top={1720} width={480} height={480} spanX={1440} spanY={1440} regions={europeRegions} borders={europeBorders} />
      <MapLayer left={1640} top={2040} width={420} height={300} spanX={1260} spanY={900} regions={seAsiaRegions} borders={seAsiaBorders} />

      <div style={{ position: 'absolute', left: 191, top: 2517, width: 581, height: 26, background: 'linear-gradient(to right, #dc6363 0%, #dd0711 50%, #ff050e 100%)' }} />
      <div style={{ ...scaleLabel, left: 120, width: 54, textAlign: 'right' }}>21</div>
      <div style={{ ...scaleLabel, left: 787 }}>2,127</div>

      <div style={{ position: 'absolute', left: 2200, top: 1480 }}>
        <PieChart width={1170} height={760} margin={{ top: 0, right: 0, bottom: 0, left: 0 }}>
          <Pie
            data={pieRows}
            dataKey="value"
            nameKey="name"
            cx={418}
            cy={382}
            innerRadius={166.5}
            outerRadius={350}
            startAngle={90}
            endAngle={-270}
            stroke="none"
            label={renderPieLabel}
            labelLine={false}
            isAnimationActive={false}
          >
            {pieRows.map((r, i) => <Cell key={r.name} fill={pieColors[i]} />)}
          </Pie>
          <Legend content={<PieLegend />} wrapperStyle={{ position: 'absolute', left: 0, top: 0, width: 0, height: 0 }} />
        </PieChart>
      </div>
    </div>
  );
}
